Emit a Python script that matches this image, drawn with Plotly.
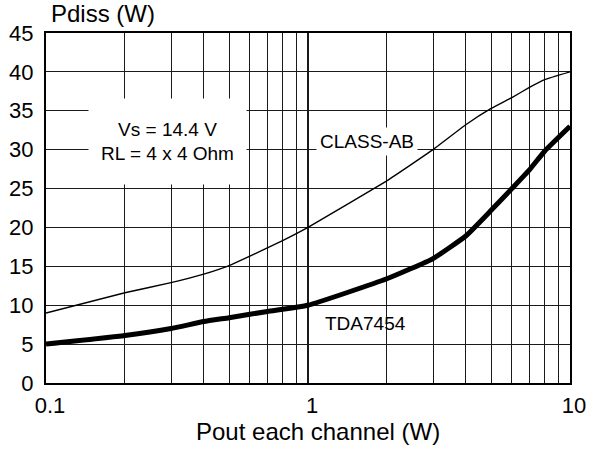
import plotly.graph_objects as go
import math

pout = [0.1, 0.2, 0.3, 0.4, 0.5, 0.6, 0.8, 1, 2, 3, 4, 5, 6, 7, 8, 10]
class_ab = [9.0, 11.6, 12.9, 14.0, 15.1, 16.3, 18.3, 20.0, 26.0, 30.0, 33.2, 35.3, 36.7, 38.0, 39.0, 40.0]

pout_tda = [0.1, 0.2, 0.3, 0.4, 0.5, 0.7, 1, 2, 3, 4, 5, 6, 7, 8, 10]
tda7454 = [5.0, 6.1, 7.0, 7.9, 8.4, 9.2, 10.0, 13.4, 16.0, 18.9, 22.2, 25.0, 27.4, 29.8, 33.0]

x_major = [0.1, 1, 10]
x_minor = [m * d for d in (0.1, 1) for m in range(2, 10)]
y_ticks = list(range(0, 50, 5))

FONT = "Liberation Sans, Arial, sans-serif"
GRID = "#1a1a1a"

fig = go.Figure()
fig.add_trace(go.Scatter(x=pout, y=class_ab, mode="lines", line=dict(color="black", width=1.4, shape="spline", smoothing=0.3), showlegend=False))
fig.add_trace(go.Scatter(x=pout_tda, y=tda7454, mode="lines", line=dict(color="black", width=5, shape="spline", smoothing=0.4), showlegend=False))

fig.update_layout(
    width=589, height=451,
    margin=dict(l=46, r=19, t=33, b=68),
    paper_bgcolor="white", plot_bgcolor="white",
    font=dict(family=FONT, color="black", size=22),
    xaxis=dict(type="log", range=[-1, 1], tickvals=x_major, ticktext=["0.1", "1", "10"],
               showgrid=True, gridcolor=GRID, gridwidth=2,
               minor=dict(tickvals=x_minor, showgrid=True, gridcolor=GRID, gridwidth=1, ticks=""),
               showline=True, linecolor="black", linewidth=2, mirror=True,
               ticks="", tickfont=dict(size=22), zeroline=False, automargin=False,
               ticklabelshift=4, ticklabelstandoff=2),
    yaxis=dict(range=[0, 45], tickvals=y_ticks, showgrid=True, gridcolor=GRID, gridwidth=1,
               showline=True, linecolor="black", linewidth=2, mirror=True,
               ticks="", tickfont=dict(size=22), zeroline=False, automargin=False,
               ticklabelstandoff=6),
)

fig.add_annotation(text="Vs = 14.4 V<br>RL = 4 x 4 Ohm", xref="x", yref="y",
                   x=math.log10(0.291), y=31.0, showarrow=False, bgcolor="white",
                   width=155, height=83, font=dict(size=19, family=FONT))
fig.add_annotation(text="CLASS-AB", xref="x", yref="y", x=0.225, y=31.0, showarrow=False,
                   bgcolor="white", borderpad=3, font=dict(size=19, family=FONT))
fig.add_annotation(text="TDA7454", xref="x", yref="y", x=0.218, y=7.6, showarrow=False,
                   font=dict(size=19, family=FONT))
fig.add_annotation(text="Pdiss (W)", xref="paper", yref="paper", x=0, y=1, xanchor="left",
                   yanchor="middle", xshift=3, yshift=20, showarrow=False, font=dict(size=24, family=FONT))
fig.add_annotation(text="Pout each channel (W)", xref="paper", yref="paper", x=0.5, y=0,
                   xanchor="center", yanchor="middle", xshift=10, yshift=-48, showarrow=False,
                   font=dict(size=24, family=FONT))

fig.write_html("out.html", config={"displayModeBar": False},
               post_script="document.body.style.margin='0px';")
